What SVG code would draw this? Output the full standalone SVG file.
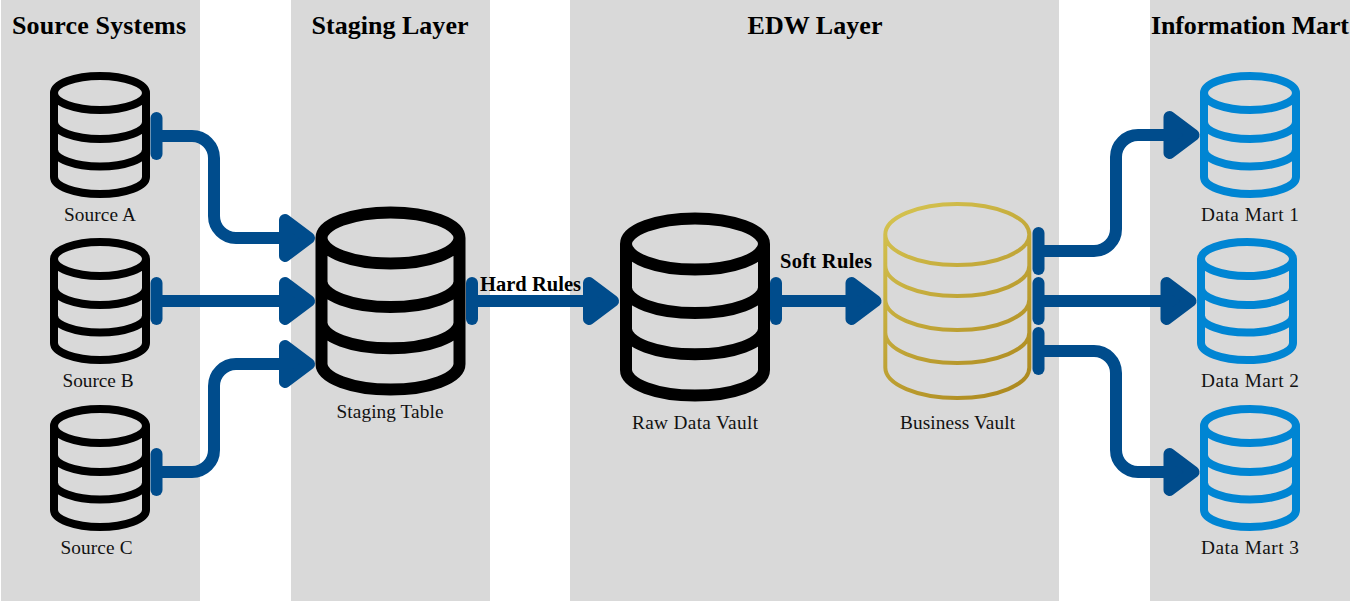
<svg xmlns="http://www.w3.org/2000/svg" width="1351" height="602" viewBox="0 0 1351 602">
<style>
.panel{fill:#d9d9d9}
.title{font:bold 26px "Liberation Serif",serif;text-anchor:middle;fill:#000}
.label{font:19.300px "Liberation Serif",serif;text-anchor:middle;fill:#111}
.rule{font:bold 20.500px "Liberation Serif",serif;text-anchor:middle;fill:#000}
.db{fill:none;stroke-width:8;stroke-linejoin:round;stroke-linecap:round}
.k{stroke:#000}.b{stroke:#0085d3}
.conn{fill:none;stroke:#004c8c;stroke-width:12;marker-start:url(#tee);marker-end:url(#head)}
</style>
<defs>
<linearGradient id="gold" gradientUnits="userSpaceOnUse" x1="885" y1="204" x2="1030" y2="398"><stop offset="0" stop-color="#d6c552"/><stop offset="1" stop-color="#ab861c"/></linearGradient>
<marker id="head" markerUnits="userSpaceOnUse" viewBox="-10 -30 50 60" refX="0" refY="0" markerWidth="50" markerHeight="60" orient="auto"><polygon points="-1,-18 23,0 -1,18" fill="#004c8c" stroke="#004c8c" stroke-width="12" stroke-linejoin="round"/></marker>
<marker id="tee" markerUnits="userSpaceOnUse" viewBox="-10 -30 20 60" refX="0" refY="0" markerWidth="20" markerHeight="60" orient="auto"><line x1="0" y1="-18" x2="0" y2="18" stroke="#004c8c" stroke-width="12" stroke-linecap="round"/></marker>
<path id="cyl" d="M-46,17A46,17 0 1 1 46,17A46,17 0 1 1 -46,17V101A46,17 0 0 0 46,101V17M-46,46A46,17 0 0 0 46,46M-46,73.5A46,17 0 0 0 46,73.5"/>
</defs>
<g id="panels">
<rect class="panel" x="1" y="0" width="199" height="601"/>
<rect class="panel" x="291" y="0" width="199" height="601"/>
<rect class="panel" x="570" y="0" width="489" height="601"/>
<rect class="panel" x="1150" y="0" width="200" height="601"/>
<text class="title" x="99" y="34" textLength="174">Source Systems</text>
<text class="title" x="390" y="34" textLength="157">Staging Layer</text>
<text class="title" x="815" y="34" textLength="135">EDW Layer</text>
<text class="title" x="1250" y="34" textLength="198">Information Mart</text>
</g>
<g id="connectors">
<path class="conn" d="M156.500,136H192A22,22 0 0 1 214,158V216A22,22 0 0 0 236,238H286"/>
<path class="conn" d="M156.500,301H286"/>
<path class="conn" d="M156.500,472H192A22,22 0 0 0 214,450V386A22,22 0 0 1 236,364H286"/>
<path class="conn" d="M472,301H590"/>
<path class="conn" d="M776,301H852.500"/>
<path class="conn" d="M1038.500,251H1094A22,22 0 0 0 1116,229V157A22,22 0 0 1 1138,135H1170.500"/>
<path class="conn" d="M1038.500,301H1167.500"/>
<path class="conn" d="M1038.500,351H1094A22,22 0 0 1 1116,373V450A22,22 0 0 0 1138,472H1170.500"/>
</g>
<g id="source-a"><use href="#cyl" class="db k" transform="translate(100,76)"/><text class="label" x="100" y="221" textLength="72">Source A</text></g>
<g id="source-b"><use href="#cyl" class="db k" transform="translate(100,242)"/><text class="label" x="98" y="387" textLength="71">Source B</text></g>
<g id="source-c"><use href="#cyl" class="db k" transform="translate(100,409)"/><text class="label" x="96.500" y="554" textLength="72">Source C</text></g>
<g id="staging-table"><use href="#cyl" class="db k" transform="translate(390.500,212.500) scale(1.5)"/><text class="label" x="390" y="418" textLength="107">Staging Table</text></g>
<g id="raw-data-vault"><use href="#cyl" class="db k" transform="translate(695,218.500) scale(1.5)"/><text class="label" x="695" y="429" textLength="126">Raw Data Vault</text></g>
<g id="business-vault"><path fill="none" stroke="url(#gold)" stroke-width="4" stroke-linejoin="round" d="M885.300,234.500A72,30.500 0 1 1 1029.300,234.500A72,30.500 0 1 1 885.300,234.500V367.500A72,30.500 0 0 0 1029.300,367.500V234.500M885.300,265.500A72,30.500 0 0 0 1029.300,265.500M885.300,299.500A72,30.500 0 0 0 1029.300,299.500M885.300,332.500A72,30.500 0 0 0 1029.300,332.500"/><text class="label" x="957.500" y="429" textLength="115">Business Vault</text></g>
<g id="data-mart-1"><use href="#cyl" class="db b" transform="translate(1250,76)"/><text class="label" x="1250" y="221" textLength="98">Data Mart 1</text></g>
<g id="data-mart-2"><use href="#cyl" class="db b" transform="translate(1247,242)"/><text class="label" x="1250" y="387" textLength="98">Data Mart 2</text></g>
<g id="data-mart-3"><use href="#cyl" class="db b" transform="translate(1250,409)"/><text class="label" x="1250" y="554" textLength="98">Data Mart 3</text></g>
<g id="rule-labels">
<text class="rule" x="530.500" y="291" textLength="101">Hard Rules</text>
<text class="rule" x="826" y="268" textLength="92">Soft Rules</text>
</g>
</svg>
